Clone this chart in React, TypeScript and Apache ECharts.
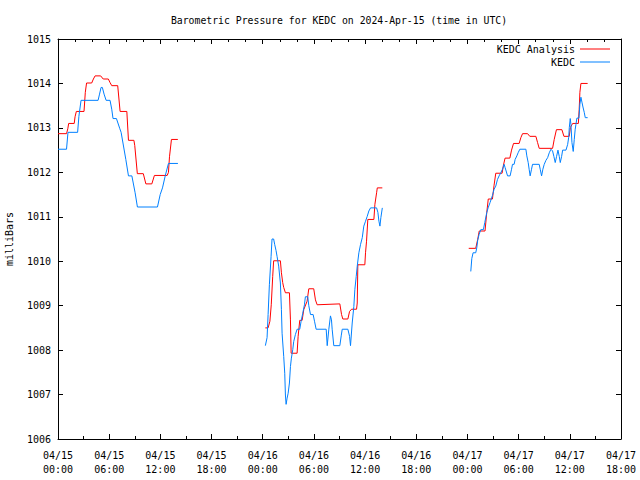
import React, { useEffect, useRef } from 'react';
import * as echarts from 'echarts';

const TITLE = 'Barometric Pressure for KEDC on 2024-Apr-15 (time in UTC)';
const Y_NAME = 'milliBars';
const SERIES_NAMES = ['KEDC Analysis', 'KEDC'];
const SERIES_COLORS = ['#ff0000', '#0080ff'];

// x axis: hours since 2024-04-15 00:00 UTC
const X_MIN = 0;
const X_MAX = 66;
const X_STEP = 6;
const X_TICK_LABELS = [
  '04/15\n00:00', '04/15\n06:00', '04/15\n12:00', '04/15\n18:00',
  '04/16\n00:00', '04/16\n06:00', '04/16\n12:00', '04/16\n18:00',
  '04/17\n00:00', '04/17\n06:00', '04/17\n12:00', '04/17\n18:00',
];
const Y_MIN = 1006;
const Y_MAX = 1015;
const Y_STEP = 1;

// [hour, millibars]
const analysisDay1 = [
  [0, 1012.87], [1.0, 1012.87], [1.15, 1012.98], [1.25, 1013.10], [1.9, 1013.10], [2.0, 1013.25],
  [2.15, 1013.37], [3.05, 1013.37], [3.2, 1013.80], [3.35, 1014.01], [3.95, 1014.01], [4.15, 1014.10],
  [4.35, 1014.17], [5.0, 1014.17], [5.3, 1014.10], [5.9, 1014.10], [6.1, 1014.02], [6.3, 1013.95],
  [7.0, 1013.95], [7.28, 1013.37], [8.07, 1013.37], [8.26, 1012.72], [8.9, 1012.72], [9.0, 1012.60],
  [9.3, 1011.97], [10.0, 1011.97], [10.3, 1011.74], [11.0, 1011.74], [11.3, 1011.93], [12.8, 1011.93],
  [12.95, 1012.0], [13.07, 1012.35], [13.3, 1012.74], [14.05, 1012.74],
];
const analysisDay2 = [
  [24.31, 1008.50], [24.63, 1008.50], [24.84, 1008.65], [25.0, 1009.02], [25.17, 1009.66], [25.28, 1010.01],
  [26.07, 1010.01], [26.19, 1009.74], [26.34, 1009.52], [26.46, 1009.41], [26.66, 1009.29], [27.13, 1009.29],
  [27.25, 1008.68], [27.33, 1007.93], [28.03, 1007.93], [28.15, 1008.31], [28.34, 1008.67], [28.62, 1008.67],
  [28.81, 1008.91], [29.2, 1009.10], [29.4, 1009.38], [29.98, 1009.38], [30.18, 1009.13], [30.38, 1009.02],
  [33.04, 1009.04], [33.24, 1008.80], [33.39, 1008.70], [33.98, 1008.70], [34.18, 1008.87], [34.41, 1008.92],
  [35.0, 1008.92], [35.08, 1009.06], [35.15, 1009.92], [35.97, 1009.92], [36.05, 1010.19], [36.17, 1010.45],
  [36.32, 1010.94], [37.03, 1010.94], [37.15, 1011.28], [37.35, 1011.54], [37.43, 1011.65], [38.02, 1011.65],
];
const analysisDay3 = [
  [48.15, 1010.29], [48.97, 1010.29], [49.2, 1010.49], [49.38, 1010.68], [50.06, 1010.68], [50.26, 1011.09],
  [50.44, 1011.40], [50.93, 1011.40], [51.12, 1011.71], [51.32, 1011.98], [52.06, 1011.98], [52.22, 1012.16],
  [52.41, 1012.32], [52.97, 1012.32], [53.17, 1012.50], [53.4, 1012.65], [54.06, 1012.65], [54.26, 1012.78],
  [54.46, 1012.87], [55.05, 1012.87], [55.31, 1012.81], [56.02, 1012.81], [56.22, 1012.67], [56.41, 1012.54],
  [57.98, 1012.54], [58.17, 1012.74], [58.43, 1012.96], [59.07, 1012.96], [59.31, 1012.81], [59.93, 1012.81],
  [60.07, 1013.01], [60.33, 1013.10], [61.0, 1013.10], [61.1, 1013.42], [61.18, 1013.80], [61.3, 1014.00],
  [62.09, 1014.00],
];

const observedDay1 = [
  [0, 1012.52], [1.0, 1012.52], [1.17, 1012.90], [2.3, 1012.90], [2.45, 1013.26], [2.7, 1013.62],
  [4.7, 1013.62], [4.87, 1013.76], [5.05, 1013.91], [5.2, 1013.91], [5.4, 1013.76], [5.64, 1013.62],
  [6.1, 1013.62], [6.3, 1013.42], [6.45, 1013.21], [6.85, 1013.21], [7.25, 1012.98], [7.4, 1012.90],
  [7.95, 1012.29], [8.26, 1011.92], [8.66, 1011.92], [9.04, 1011.54], [9.31, 1011.22], [11.66, 1011.22],
  [11.98, 1011.50], [12.25, 1011.65], [12.57, 1011.92], [12.95, 1012.20], [14.06, 1012.20],
];
const observedDay2 = [
  [24.31, 1008.10], [24.51, 1008.28], [24.63, 1008.80], [24.78, 1009.47], [24.98, 1010.11], [25.09, 1010.50],
  [25.28, 1010.50], [25.4, 1010.38], [25.56, 1010.24], [25.68, 1010.11], [25.87, 1009.89], [26.07, 1009.51],
  [26.19, 1008.91], [26.27, 1008.38], [26.46, 1007.86], [26.58, 1007.48], [26.66, 1006.99], [26.74, 1006.78],
  [26.86, 1006.92], [26.98, 1007.03], [27.13, 1007.26], [27.25, 1007.63], [27.36, 1007.82], [27.52, 1008.01],
  [27.63, 1008.19], [27.83, 1008.35], [28.03, 1008.47], [28.34, 1008.47], [28.5, 1008.65], [28.69, 1008.83],
  [28.89, 1009.02], [29.0, 1009.20], [29.28, 1009.20], [29.4, 1009.0], [29.6, 1008.80], [29.91, 1008.80],
  [30.07, 1008.65], [30.26, 1008.47], [31.44, 1008.47], [31.56, 1008.10], [31.75, 1008.47], [31.94, 1008.77],
  [32.06, 1008.68], [32.14, 1008.47], [32.33, 1008.10], [33.04, 1008.10], [33.2, 1008.32], [33.32, 1008.47],
  [33.98, 1008.47], [34.18, 1008.31], [34.29, 1008.10], [34.49, 1008.61], [34.68, 1008.98], [34.8, 1009.36],
  [34.96, 1009.66], [35.08, 1009.89], [35.27, 1010.19], [35.47, 1010.38], [35.67, 1010.53], [35.85, 1010.79],
  [36.05, 1010.90], [36.25, 1011.01], [36.44, 1011.13], [36.64, 1011.20], [37.35, 1011.20], [37.5, 1011.10],
  [37.62, 1010.90], [37.74, 1010.79], [37.85, 1010.98], [38.02, 1011.20],
];
const observedDay3 = [
  [48.39, 1009.77], [48.51, 1010.06], [48.66, 1010.19], [48.97, 1010.19], [49.09, 1010.30], [49.2, 1010.47],
  [49.36, 1010.60], [49.56, 1010.71], [49.87, 1010.71], [50.03, 1010.87], [50.26, 1011.09], [50.42, 1011.20],
  [50.65, 1011.32], [50.93, 1011.48], [51.12, 1011.62], [51.32, 1011.69], [51.52, 1011.84], [51.71, 1011.92],
  [51.91, 1011.99], [52.11, 1012.07], [52.3, 1012.18], [52.41, 1012.11], [52.7, 1011.92], [53.0, 1011.92],
  [53.17, 1012.07], [53.28, 1012.18], [53.47, 1012.18], [53.59, 1012.29], [53.79, 1012.37], [53.94, 1012.44],
  [54.14, 1012.52], [54.85, 1012.52], [54.96, 1012.37], [55.12, 1012.22], [55.23, 1012.07], [55.35, 1011.92],
  [55.51, 1012.07], [55.63, 1012.18], [56.41, 1012.18], [56.53, 1012.07], [56.69, 1011.92], [56.84, 1012.07],
  [57.0, 1012.18], [57.2, 1012.27], [57.4, 1012.33], [57.59, 1012.44], [57.79, 1012.52], [57.98, 1012.48],
  [58.13, 1012.36], [58.29, 1012.22], [58.45, 1012.36], [58.61, 1012.50], [58.76, 1012.36], [58.88, 1012.22],
  [59.04, 1012.36], [59.16, 1012.50], [59.55, 1012.50], [59.75, 1012.63], [59.87, 1012.79], [59.94, 1013.01],
  [60.05, 1013.21], [60.13, 1013.08], [60.25, 1012.67], [60.4, 1012.47], [60.52, 1012.74], [60.63, 1012.97],
  [60.72, 1013.08], [60.83, 1013.22], [61.07, 1013.22], [61.18, 1013.53], [61.3, 1013.69], [61.42, 1013.58],
  [61.54, 1013.47], [61.69, 1013.35], [61.81, 1013.23], [62.09, 1013.23],
];

const ANALYSIS_SEGMENTS = [analysisDay1, analysisDay2, analysisDay3];
const OBSERVED_SEGMENTS = [observedDay1, observedDay2, observedDay3];

const FONT = '"DejaVu Sans Mono", "Liberation Mono", monospace';

export default function App() {
  const ref = useRef<HTMLDivElement>(null);
  useEffect(() => {
    if (!ref.current) return;
    const chart = echarts.init(ref.current, undefined, { renderer: 'svg' });
    const mkSeries = (segs: number[][][], idx: number) =>
      segs.map((seg) => ({
        name: SERIES_NAMES[idx],
        type: 'line',
        data: seg,
        symbol: 'none',
        showSymbol: false,
        xAxisIndex: 0,
        yAxisIndex: 0,
        lineStyle: { color: SERIES_COLORS[idx], width: 1 },
        itemStyle: { color: SERIES_COLORS[idx] },
        emphasis: { disabled: true },
      }));
    const axisLine = { show: true, onZero: false, lineStyle: { color: '#000', width: 1 } };
    const textBase = { color: '#000', fontFamily: FONT, fontSize: 10 };
    const legendBase = {
      right: 30,
      align: 'right',
      orient: 'horizontal',
      padding: 0,
      itemWidth: 30,
      itemHeight: 1,
      icon: 'rect',
      selectedMode: false,
      textStyle: { ...textBase, fontSize: 10 },
    };
    chart.setOption({
      animation: false,
      backgroundColor: '#fff',
      grid: { left: 58, right: 19, top: 39, bottom: 41, containLabel: false, outerBoundsMode: 'none' },
      graphic: [
        {
          type: 'text',
          x: 339,
          y: 20,
          style: {
            text: TITLE,
            align: 'center',
            verticalAlign: 'middle',
            fill: '#000',
            font: `9.8px ${FONT}`,
          },
        },
      ],
      legend: [
        { ...legendBase, top: 44, data: [{ name: SERIES_NAMES[0], itemStyle: { color: SERIES_COLORS[0] } }] },
        { ...legendBase, top: 57, data: [{ name: SERIES_NAMES[1], itemStyle: { color: SERIES_COLORS[1] } }] },
      ],
      xAxis: [
        {
          type: 'value',
          position: 'bottom',
          min: X_MIN,
          max: X_MAX,
          interval: X_STEP,
          axisLine,
          splitLine: { show: false },
          axisTick: { show: true, inside: true, length: 5, lineStyle: { color: '#000' } },
          minorTick: { show: true, splitNumber: 2, length: 3, lineStyle: { color: '#000' } },
          axisLabel: {
            ...textBase,
            margin: 9,
            lineHeight: 14,
            formatter: (v: number) => X_TICK_LABELS[Math.round((v - X_MIN) / X_STEP)] ?? '',
          },
        },
        {
          type: 'value',
          position: 'top',
          min: X_MIN,
          max: X_MAX,
          interval: X_STEP,
          axisLine,
          splitLine: { show: false },
          axisTick: { show: true, inside: true, length: 5, lineStyle: { color: '#000' } },
          minorTick: { show: true, splitNumber: 3, length: 3, lineStyle: { color: '#000' } },
          axisLabel: { show: false },
        },
      ],
      yAxis: [
        {
          type: 'value',
          position: 'left',
          min: Y_MIN,
          max: Y_MAX,
          interval: Y_STEP,
          name: Y_NAME,
          nameLocation: 'middle',
          nameGap: 44,
          nameRotate: 90,
          nameTextStyle: { ...textBase },
          axisLine,
          splitLine: { show: false },
          axisTick: { show: true, inside: true, length: 5, lineStyle: { color: '#000' } },
          axisLabel: { ...textBase, margin: 7, formatter: (v: number) => String(v) },
        },
        {
          type: 'value',
          position: 'right',
          min: Y_MIN,
          max: Y_MAX,
          interval: Y_STEP,
          axisLine,
          splitLine: { show: false },
          axisTick: { show: true, inside: true, length: 5, lineStyle: { color: '#000' } },
          axisLabel: { show: false },
        },
      ],
      series: [...mkSeries(ANALYSIS_SEGMENTS, 0), ...mkSeries(OBSERVED_SEGMENTS, 1)],
    });
    return () => chart.dispose();
  }, []);
  return (
    <div
      ref={ref}
      style={{ position: 'absolute', left: 0, top: 0, width: 640, height: 480, background: '#fff' }}
    />
  );
}
